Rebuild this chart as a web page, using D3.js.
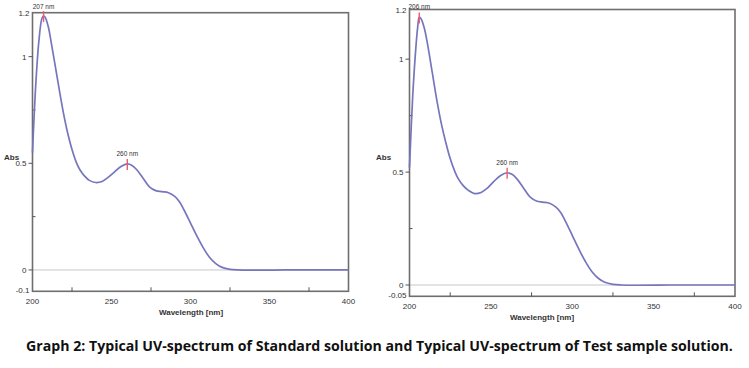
<!DOCTYPE html>
<html><head><meta charset="utf-8">
<script src="https://cdn.jsdelivr.net/npm/d3@7"></script>
<style>body{margin:0;background:#fff}svg{display:block}</style>
</head><body><svg id="c" width="749" height="368"></svg>
<script>
// Wavelength (nm) and absorbance values
const stdWavelength = [200,202,204,206,207,208,210,212,215,218,220,222,225,228,230,233,236,240,244,248,252,256,260,263,266,270,274,278,282,286,290,293,296,300,304,308,312,316,320,325,330,340,360,380,400];
const stdAbs        = [0.55,0.86,1.07,1.18,1.19,1.185,1.14,1.06,0.93,0.80,0.72,0.65,0.565,0.50,0.47,0.44,0.42,0.41,0.415,0.435,0.46,0.485,0.497,0.49,0.47,0.43,0.39,0.372,0.367,0.362,0.345,0.32,0.28,0.22,0.16,0.105,0.06,0.03,0.012,0.003,0.0,-0.001,0.0,0.0,0.0];
const testWavelength = [200,202,204,205,206,207,209,211,214,217,220,222,225,228,230,233,236,240,244,248,252,256,260,263,266,270,274,278,282,286,290,293,296,300,304,308,312,316,320,325,330,340,360,380,400];
const testAbs        = [0.52,0.84,1.06,1.14,1.185,1.18,1.14,1.07,0.94,0.81,0.70,0.64,0.56,0.50,0.47,0.44,0.42,0.405,0.41,0.43,0.46,0.485,0.497,0.49,0.47,0.43,0.39,0.372,0.367,0.362,0.345,0.32,0.28,0.22,0.16,0.105,0.06,0.03,0.012,0.003,0.0,-0.001,0.0,0.0,0.0];
const stdPeaks  = [{wl:207, abs:1.19, label:"207 nm"}, {wl:260, abs:0.497, label:"260 nm"}];
const testPeaks = [{wl:206, abs:1.185, label:"206 nm"}, {wl:260, abs:0.497, label:"260 nm"}];
const xTickLabels = [200,250,300,350,400];
const xMinorTicks = [225,275,325,375];
const stdYTicks  = [{v:1.2,t:"1.2"},{v:1,t:"1"},{v:0.5,t:"0.5"},{v:0,t:"0"},{v:-0.1,t:"-0.1"}];
const testYTicks = [{v:1.2,t:"1.2"},{v:1,t:"1"},{v:0.5,t:"0.5"},{v:0,t:"0"},{v:-0.05,t:"-0.05"}];
const yMinorTicks = [0.25,0.75];
const caption = "Graph 2: Typical UV-spectrum of Standard solution and Typical UV-spectrum of Test sample solution.";

const svg = d3.select("#c");
const FONT = "Liberation Sans, Arial, sans-serif";

function panel(cfg){
  const g = svg.append("g");
  const x = d3.scaleLinear().domain([200,400]).range([cfg.x0,cfg.x1]);
  const y = d3.scaleLinear().domain(cfg.yDom).range([cfg.y1,cfg.y0]);
  // zero line
  g.append("line").attr("x1",x(200)).attr("x2",x(400)).attr("y1",y(0)).attr("y2",y(0))
    .attr("stroke","#c8c8c8").attr("stroke-width",1);
  // frame
  g.append("rect").attr("x",cfg.x0).attr("y",cfg.y0).attr("width",cfg.x1-cfg.x0).attr("height",cfg.y1-cfg.y0)
    .attr("fill","none").attr("stroke","#6e6e6e").attr("stroke-width",1.6);
  // x ticks
  g.selectAll(".xm").data(xMinorTicks).enter().append("line")
    .attr("x1",d=>x(d)).attr("x2",d=>x(d)).attr("y1",cfg.y1).attr("y2",cfg.y1-4)
    .attr("stroke","#555").attr("stroke-width",1);
  g.selectAll(".xl").data(xTickLabels).enter().append("text")
    .attr("x",d=>x(d)).attr("y",cfg.y1+13).attr("text-anchor","middle")
    .attr("font-family",FONT).attr("font-size",8).attr("fill","#333").text(d=>d);
  // y ticks
  g.selectAll(".ym").data(yMinorTicks).enter().append("line")
    .attr("x1",cfg.x0).attr("x2",cfg.x0+3).attr("y1",d=>y(d)).attr("y2",d=>y(d))
    .attr("stroke","#555").attr("stroke-width",1);
  g.selectAll(".yt").data(cfg.yTicks.filter(d=>d.v===0||d.v===0.5||d.v===1)).enter().append("line")
    .attr("x1",cfg.x0-4).attr("x2",cfg.x0).attr("y1",d=>y(d.v)).attr("y2",d=>y(d.v))
    .attr("stroke","#555").attr("stroke-width",1);
  g.selectAll(".yl").data(cfg.yTicks).enter().append("text")
    .attr("x",cfg.x0-3).attr("y",d=>{
        if(d.v===cfg.yTicks[0].v) return cfg.y0+3;
        if(d.v<0) return cfg.y1+2;
        return y(d.v)+3;})
    .attr("dx",d=>(d.v===0||d.v===0.5||d.v===1)?-3:0)
    .attr("text-anchor","end").attr("font-family",FONT).attr("font-size",8).attr("fill","#333").text(d=>d.t);
  // axis titles
  g.append("text").attr("x",cfg.absX).attr("y",cfg.absY).attr("font-family",FONT).attr("font-size",8)
    .attr("font-weight","bold").attr("fill","#333").text("Abs");
  g.append("text").attr("x",cfg.wlX).attr("y",cfg.wlY).attr("text-anchor","middle").attr("font-family",FONT)
    .attr("font-size",8).attr("font-weight","bold").attr("fill","#333").text("Wavelength [nm]");
  // curve
  const pts = cfg.wl.map((w,i)=>[w,cfg.abs[i]]);
  g.append("path").datum(pts).attr("fill","none").attr("stroke","#7676bf").attr("stroke-width",1.7)
    .attr("d",d3.line().x(d=>x(d[0])).y(d=>y(d[1])).curve(d3.curveCatmullRom.alpha(0.5)));
  // peak markers
  cfg.peaks.forEach(p=>{
    g.append("line").attr("x1",x(p.wl)).attr("x2",x(p.wl)).attr("y1",y(p.abs)-5).attr("y2",y(p.abs)+6)
      .attr("stroke","#f25a6a").attr("stroke-width",1.4);
    g.append("text").attr("x",x(p.wl)).attr("y",Math.max(y(p.abs)-8,cfg.y0-4)).attr("text-anchor","middle")
      .attr("font-family",FONT).attr("font-size",6.5).attr("fill","#333").text(p.label);
  });
}

panel({x0:32.5,x1:348.5,y0:12.7,y1:291.3,yDom:[-0.1,1.206],yTicks:stdYTicks,wl:stdWavelength,abs:stdAbs,peaks:stdPeaks,
       absX:4,absY:160,wlX:191,wlY:315});
panel({x0:409.5,x1:735,y0:9.5,y1:296.3,yDom:[-0.05,1.22],yTicks:testYTicks,wl:testWavelength,abs:testAbs,peaks:testPeaks,
       absX:376,absY:160,wlX:542,wlY:320});

const capG = svg.append("g");
const cap = capG.append("text").attr("x",0).attr("y",0).attr("font-family","Open Sans, Liberation Sans, sans-serif")
  .attr("font-size",15).attr("font-weight","bold").attr("fill","#111").text(caption);
const natural = cap.node().getComputedTextLength();
capG.attr("transform",`translate(26,351) scale(${707/natural},1)`);
</script></body></html>
